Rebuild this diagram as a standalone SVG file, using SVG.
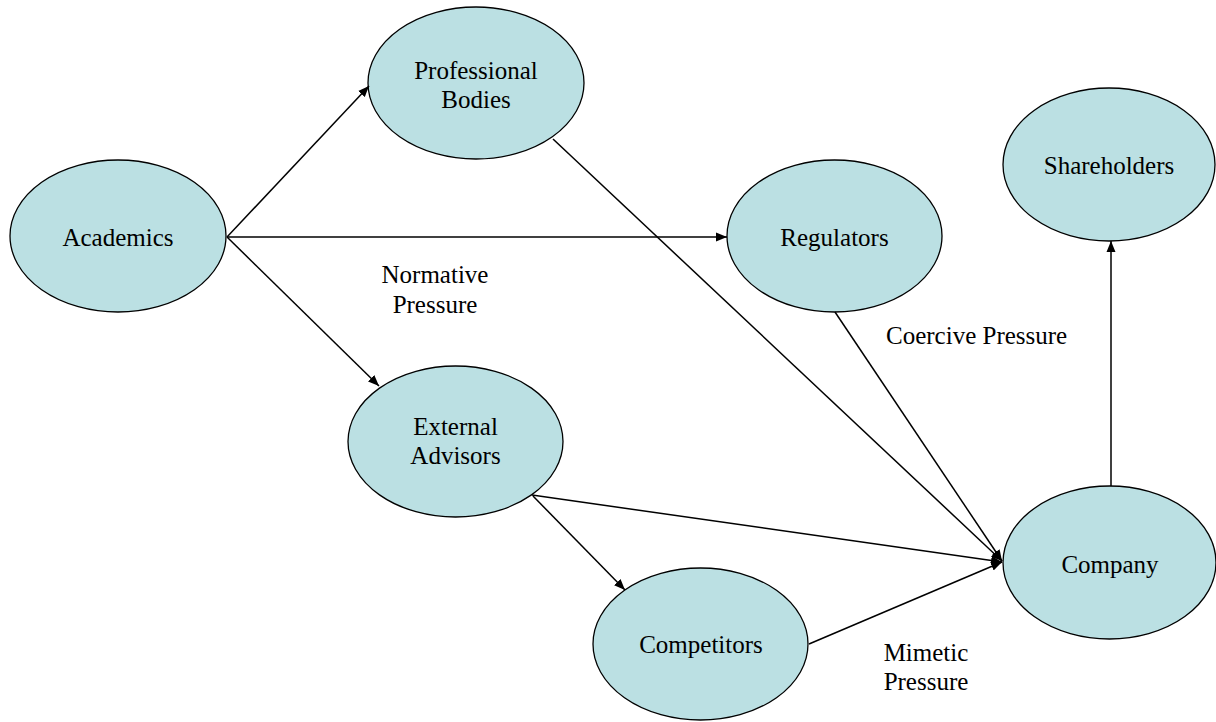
<svg xmlns="http://www.w3.org/2000/svg" width="1216" height="722" viewBox="0 0 1216 722">
<style>
.node ellipse{fill:#bbe0e3;stroke:#000;stroke-width:1.3}
text{font-family:"Liberation Serif","Times New Roman",serif;font-size:25px;fill:#000}
.node text{text-anchor:middle}
.conn line{stroke:#000;stroke-width:1.5;marker-end:url(#arr)}
.lbl{text-anchor:middle}
</style>
<defs>
<marker id="arr" markerUnits="userSpaceOnUse" markerWidth="12" markerHeight="10" refX="11" refY="5" orient="auto">
<path d="M0,0.5 L11,5 L0,9.5 z" fill="#000"/>
</marker>
</defs>
<rect width="1216" height="722" fill="#fff"/>
<g id="nodes">
<g id="professional-bodies" class="node"><ellipse cx="476" cy="83" rx="108" ry="76"/><text x="476" y="79">Professional</text><text x="476" y="108">Bodies</text></g>
<g id="academics" class="node"><ellipse cx="118" cy="236" rx="108" ry="76"/><text x="118" y="246">Academics</text></g>
<g id="regulators" class="node"><ellipse cx="834.5" cy="236" rx="107.5" ry="76"/><text x="834.5" y="246">Regulators</text></g>
<g id="shareholders" class="node"><ellipse cx="1109" cy="164.5" rx="106" ry="76.5"/><text x="1109" y="174">Shareholders</text></g>
<g id="external-advisors" class="node"><ellipse cx="455.5" cy="441.5" rx="107.5" ry="75.5"/><text x="455.5" y="435">External</text><text x="455.5" y="464">Advisors</text></g>
<g id="company" class="node"><ellipse cx="1109.5" cy="562.5" rx="106.5" ry="76.5"/><text x="1110" y="573">Company</text></g>
<g id="competitors" class="node"><ellipse cx="700.5" cy="644" rx="107.5" ry="76"/><text x="701" y="653">Competitors</text></g>
</g>
<g id="connectors" class="conn">
<line x1="227" y1="237" x2="369" y2="86"/>
<line x1="227" y1="237" x2="727" y2="237"/>
<line x1="227" y1="237" x2="379" y2="386"/>
<line x1="553" y1="139" x2="1002" y2="561"/>
<line x1="835" y1="312" x2="1002" y2="561"/>
<line x1="532" y1="495" x2="1002" y2="562"/>
<line x1="533" y1="496" x2="625" y2="590"/>
<line x1="809" y1="644" x2="1002" y2="562"/>
<line x1="1111" y1="486" x2="1111" y2="241"/>
</g>
<g id="labels">
<text class="lbl" x="435" y="283">Normative</text>
<text class="lbl" x="435" y="313">Pressure</text>
<text x="886" y="344">Coercive Pressure</text>
<text class="lbl" x="926" y="661">Mimetic</text>
<text class="lbl" x="926" y="690">Pressure</text>
</g>
</svg>
